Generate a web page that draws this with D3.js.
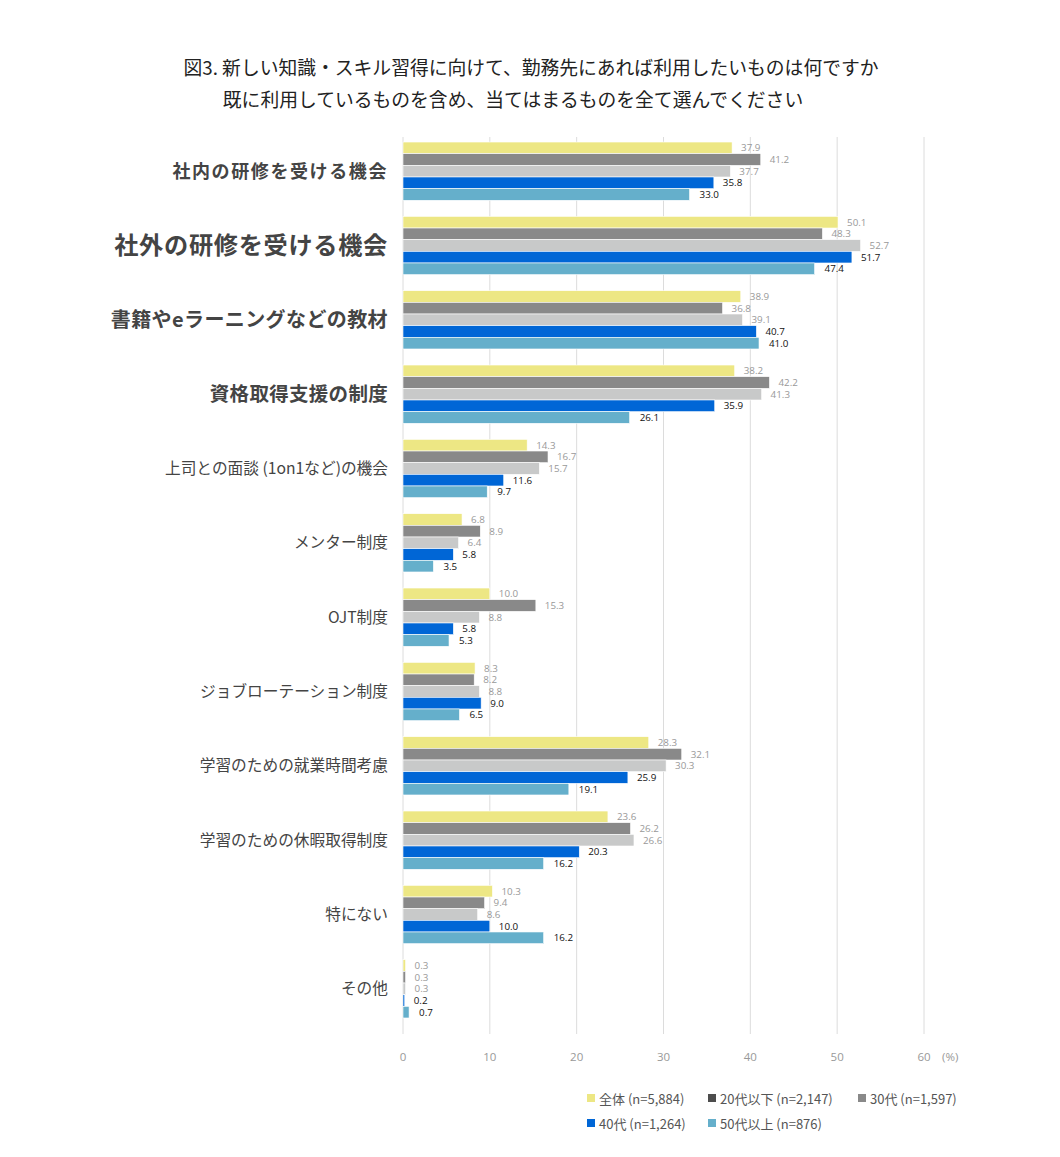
<!DOCTYPE html>
<html><head><meta charset="utf-8">
<script src="https://cdn.jsdelivr.net/npm/d3@7"></script>
<style>body{margin:0;background:#fff;font-family:"Noto Sans CJK JP","Noto Sans",sans-serif;}</style>
</head><body>
<svg id="chart" width="1060" height="1157"></svg>
<script>
const categories = ["社内の研修を受ける機会","社外の研修を受ける機会","書籍やeラーニングなどの教材","資格取得支援の制度","上司との面談 (1on1など)の機会","メンター制度","OJT制度","ジョブローテーション制度","学習のための就業時間考慮","学習のための休暇取得制度","特にない","その他"];
const seriesNames = ["全体 (n=5,884)","20代以下 (n=2,147)","30代 (n=1,597)","40代 (n=1,264)","50代以上 (n=876)"];
const all   = [37.9,50.1,38.9,38.2,14.3,6.8,10.0,8.3,28.3,23.6,10.3,0.3];
const age20 = [41.2,48.3,36.8,42.2,16.7,8.9,15.3,8.2,32.1,26.2,9.4,0.3];
const age30 = [37.7,52.7,39.1,41.3,15.7,6.4,8.8,8.8,30.3,26.6,8.6,0.3];
const age40 = [35.8,51.7,40.7,35.9,11.6,5.8,5.8,9.0,25.9,20.3,10.0,0.2];
const age50 = [33.0,47.4,41.0,26.1,9.7,3.5,5.3,6.5,19.1,16.2,16.2,0.7];
const xTicks = [0,10,20,30,40,50,60];

const series = [all, age20, age30, age40, age50];
const barColors = ["#ede784","#898989","#c8c9c9","#0066d6","#65afcb"];
const legendColors = ["#ede784","#4d4d4d","#898989","#0066d6","#65afcb"];
const labelColors = ["#999","#999","#999","#111","#111"];
const catStyle = [
  {size:18, w:"bold", ls:1.6},
  {size:24.2, w:"bold", ls:0.7},
  {size:20, w:"bold", ls:0.4},
  {size:19.5, w:"bold", ls:0.3},
];

const svg = d3.select("#chart");
const x = d3.scaleLinear().domain([0,60]).range([403,924]);
const y = d3.scaleBand().domain(categories).range([134,1026]).paddingInner(0.216).paddingOuter(0.108);
const yi = d3.scaleBand().domain(d3.range(5)).range([0,y.bandwidth()]);

// title
const title = svg.append("g").attr("text-anchor","middle").attr("fill","#222").style("font-size","18.8px");
title.append("text").attr("x",531).attr("y",75).text("図3. 新しい知識・スキル習得に向けて、勤務先にあれば利用したいものは何ですか");
title.append("text").attr("x",513).attr("y",107).text("既に利用しているものを含め、当てはまるものを全て選んでください");

// grid
svg.append("g").selectAll("line").data(xTicks).join("line")
  .attr("x1",d=>x(d)).attr("x2",d=>x(d)).attr("y1",137).attr("y2",1034)
  .attr("stroke","#dcdcdc").attr("stroke-width",1);

// axis labels
svg.append("g").selectAll("text").data(xTicks).join("text")
  .attr("x",d=>x(d)).attr("y",1061).attr("text-anchor","middle")
  .attr("fill","#999").style("font-size","11.5px")
  .style("font-family","'Open Sans','Noto Sans',sans-serif").text(d=>d);
svg.append("text").attr("x",942).attr("y",1061).attr("fill","#999").style("font-size","11.5px")
  .style("font-family","'Open Sans','Noto Sans',sans-serif").text("(%)");

// bars
const groups = svg.append("g").selectAll("g").data(categories).join("g")
  .attr("transform",d=>`translate(0,${y(d)})`);
groups.each(function(cat,ci){
  const g = d3.select(this);
  series.forEach((s,si)=>{
    g.append("rect").attr("x",x(0)).attr("y",yi(si))
      .attr("width",x(s[ci])-x(0)).attr("height",yi.bandwidth())
      .attr("fill",barColors[si]).attr("stroke","#fff").attr("stroke-width",0.6);
    g.append("text").attr("x",x(s[ci])+9 + (si===4?1:0)).attr("y",yi(si)+yi.bandwidth()/2+3.5)
      .attr("fill",labelColors[si]).style("font-size","9.8px")
      .style("font-family","'Open Sans','Noto Sans',sans-serif")
      .text(s[ci].toFixed(1));
  });
});

// category labels
svg.append("g").selectAll("text").data(categories).join("text")
  .attr("x",388).attr("y",d=>y(d)+y.bandwidth()/2)
  .attr("dy","0.36em").attr("text-anchor","end")
  .attr("fill","#444")
  .style("font-size",(d,i)=>(catStyle[i]?catStyle[i].size:15.7)+"px")
  .style("font-weight",(d,i)=>catStyle[i]?catStyle[i].w:"normal")
  .style("letter-spacing",(d,i)=>(catStyle[i]?catStyle[i].ls:0)+"px")
  .text(d=>d);

// legend
const legPos = [[587,1099],[708,1099],[858,1099],[587,1124],[708,1124]];
const leg = svg.append("g").selectAll("g").data(seriesNames).join("g")
  .attr("transform",(d,i)=>`translate(${legPos[i][0]},${legPos[i][1]})`);
leg.append("rect").attr("x",0).attr("y",-5).attr("width",8).attr("height",8)
  .attr("fill",(d,i)=>legendColors[i]);
leg.append("text").attr("x",12).attr("y",0).attr("dy","0.36em")
  .attr("fill","#555").style("font-size","13px").text(d=>d);
</script>
</body></html>
